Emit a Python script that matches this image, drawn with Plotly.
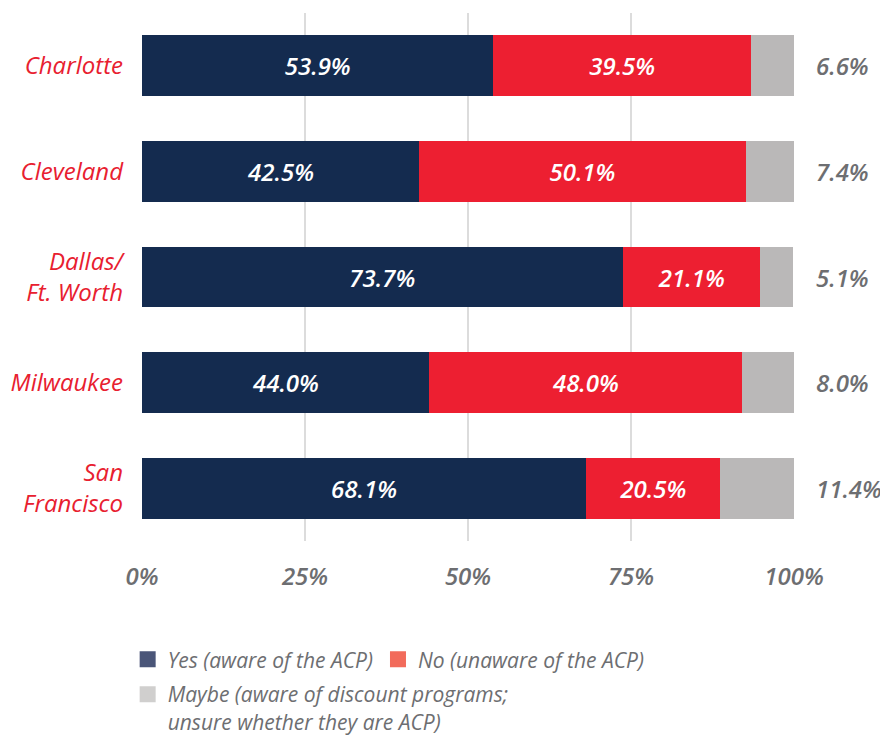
import plotly.graph_objects as go

cities = ["Charlotte", "Cleveland", "Dallas/<br>Ft. Worth", "Milwaukee", "San<br>Francisco"]
yes_vals = [53.9, 42.5, 73.7, 44.0, 68.1]
no_vals = [39.5, 50.1, 21.1, 48.0, 20.5]
maybe_vals = [6.6, 7.4, 5.1, 8.0, 11.4]
x_ticks = [0, 25, 50, 75, 100]
x_tick_labels = ["0%", "25%", "50%", "75%", "100%"]

names = ["Yes (aware of the ACP)", "No (unaware of the ACP)",
         "Maybe (aware of discount programs;<br>unsure whether they are ACP)"]
bar_colors = ["#142B4F", "#ED1F31", "#BAB8B8"]
legend_colors = ["#4A5578", "#F26B5B", "#D0CFCE"]

FONT = "Open Sans"
GREY = "#6D6E71"

fig = go.Figure()
series = [yes_vals, no_vals, maybe_vals]
for i, vals in enumerate(series):
    fig.add_trace(go.Bar(
        y=cities, x=vals, orientation="h",
        marker=dict(color=bar_colors[i], line=dict(width=0)),
        width=0.575,
        text=[f"{v:.1f}%" for v in vals] if i < 2 else None,
        texttemplate="%{text}" if i < 2 else None,
        textposition="inside" if i < 2 else "none",
        insidetextanchor="middle",
        textfont=dict(family=FONT, size=24, color="white", weight=600, style="italic"),
        showlegend=False, hoverinfo="skip",
    ))

# legend-only entries (legend swatches use lighter tints in the reference)
legend_ids = ["legend", "legend", "legend2"]
for i in range(3):
    fig.add_trace(go.Scatter(
        x=[None], y=[None], mode="markers", name=names[i],
        marker=dict(color=legend_colors[i], symbol="square", size=16),
        showlegend=True, legend=legend_ids[i],
    ))

for c, v in zip(cities, maybe_vals):
    fig.add_annotation(
        x=1, xref="paper", y=c, yref="y", xanchor="left", xshift=20,
        text=f"{v:.1f}%", showarrow=False,
        font=dict(family=FONT, size=24, color=GREY, weight=600, style="italic"),
    )

legend_font = dict(family=FONT, size=21, color=GREY, style="italic")
fig.update_layout(
    barmode="stack",
    width=880, height=728,
    margin=dict(l=134, r=94, t=5, b=195, autoexpand=False),
    plot_bgcolor="white", paper_bgcolor="white",
    xaxis=dict(
        range=[0, 100], tickvals=x_ticks, ticktext=x_tick_labels,
        showgrid=True, gridcolor="#DCDCDC", gridwidth=2,
        zeroline=False, showline=False, automargin=False,
        ticks="", ticklabelstandoff=19,
        tickfont=dict(family=FONT, size=24, color=GREY, weight=600, style="italic"),
    ),
    yaxis=dict(
        autorange="reversed", showgrid=False, showline=False, zeroline=False,
        automargin=False, ticks="", ticklabelstandoff=18,
        tickfont=dict(family=FONT, size=24, color="#E8202F", weight=500, style="italic"),
    ),
    legend=dict(
        orientation="h", x=-0.022, xanchor="left", y=-0.186, yanchor="top",
        traceorder="normal",
        font=legend_font, itemwidth=30, tracegroupgap=0,
    ),
    legend2=dict(
        orientation="h", x=-0.022, xanchor="left", y=-0.252, yanchor="top",
        traceorder="normal", valign="top",
        font=legend_font, itemwidth=30, tracegroupgap=0,
    ),
)

fig.write_html("out.html")
